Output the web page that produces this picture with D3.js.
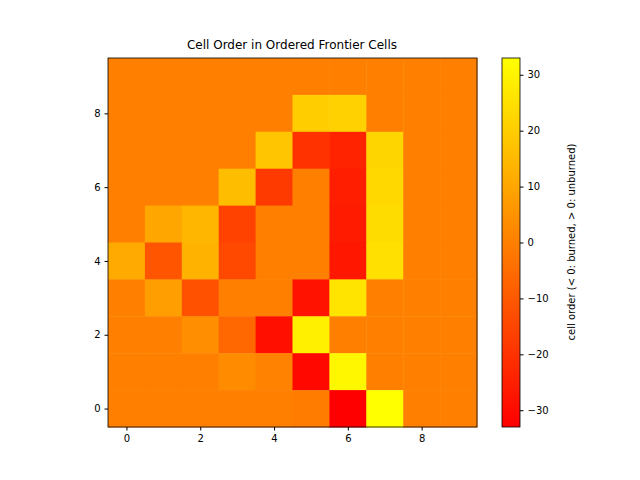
<!DOCTYPE html>
<meta charset="utf-8">
<style>
  body { margin: 0; background: white; }
  text { font-family: "DejaVu Sans", sans-serif; }
</style>
<body>
<script src="https://d3js.org/d3.v7.min.js"></script>
<script>
// rows listed from y = 9 (top) down to y = 0
var grid = [
  [0, 0, 0, 0, 0, 0, 0, 0, 0, 0],
  [0, 0, 0, 0, 0, 20, 21, 0, 0, 0],
  [0, 0, 0, 0, 18, -20, -24, 22, 0, 0],
  [0, 0, 0, 16, -18, 0, -25, 23, 0, 0],
  [0, 10, 14, -16, 0, 0, -26, 24, 0, 0],
  [11, -11, 13, -14, 0, 0, -27, 25, 0, 0],
  [0, 8, -12, 0, 0, -28, 26, 0, 0, 0],
  [0, 0, 4, -6, -29, 29, 0, 0, 0, 0],
  [0, 0, 0, 3, 1, -31, 31, 0, 0, 0],
  [0, 0, 0, 0, 0, -1, -33, 33, 0, 0]
];
var ticksXY = [0, 2, 4, 6, 8];
var cbTicks = [-30, -20, -10, 0, 10, 20, 30];
var vmin = -33, vmax = 33;

var W = 640, H = 480;
var svg = d3.select("body").append("svg").attr("width", W).attr("height", H);

var x = d3.scaleLinear().domain([-0.5, 9.5]).range([108, 477]);
var y = d3.scaleLinear().domain([-0.5, 9.5]).range([427, 58]);
var autumn = function(v) {
  var t = Math.max(0, Math.min(1, (v - vmin) / (vmax - vmin)));
  return d3.rgb(255, Math.round(255 * t), 0);
};

var cells = [];
grid.forEach(function(row, r) {
  row.forEach(function(v, c) { cells.push({x: c, y: 9 - r, v: v}); });
});
svg.append("g").selectAll("rect").data(cells).enter().append("rect")
  .attr("x", function(d) { return x(d.x - 0.5); })
  .attr("y", function(d) { return y(d.y + 0.5); })
  .attr("width", x(1) - x(0) + 0.5)
  .attr("height", y(0) - y(1) + 0.5)
  .attr("fill", function(d) { return autumn(d.v); });

svg.append("rect").attr("x", 108).attr("y", 58).attr("width", 369).attr("height", 369)
  .attr("fill", "none").attr("stroke", "black").attr("stroke-width", 0.8);

var xa = svg.append("g").attr("transform", "translate(0,427)")
  .call(d3.axisBottom(x).tickValues(ticksXY).tickSize(3.5).tickPadding(4));
var ya = svg.append("g").attr("transform", "translate(108,0)")
  .call(d3.axisLeft(y).tickValues(ticksXY).tickSize(3.5).tickPadding(4));
[xa, ya].forEach(function(a) {
  a.select(".domain").remove();
  a.selectAll("text").style("font-size", "10px").attr("fill", "black");
});

svg.append("text").attr("x", 292).attr("y", 49).attr("text-anchor", "middle")
  .style("font-size", "12px").text("Cell Order in Ordered Frontier Cells");

// colorbar
var cb = d3.scaleLinear().domain([vmin, vmax]).range([427, 58]);
var defs = svg.append("defs");
var grad = defs.append("linearGradient").attr("id", "cbg")
  .attr("x1", 0).attr("y1", 1).attr("x2", 0).attr("y2", 0);
grad.append("stop").attr("offset", 0).attr("stop-color", autumn(vmin));
grad.append("stop").attr("offset", 1).attr("stop-color", autumn(vmax));
svg.append("rect").attr("x", 502).attr("y", 58).attr("width", 18).attr("height", 369)
  .attr("fill", "url(#cbg)").attr("stroke", "black").attr("stroke-width", 0.8);
var ca = svg.append("g").attr("transform", "translate(520,0)")
  .call(d3.axisRight(cb).tickValues(cbTicks).tickSize(3.5).tickPadding(4)
    .tickFormat(function(d) { return d < 0 ? "\u2212" + (-d) : d; }));
ca.select(".domain").remove();
ca.selectAll("text").style("font-size", "10px").attr("fill", "black");

svg.append("text").attr("transform", "translate(575,242) rotate(-90)")
  .attr("text-anchor", "middle").style("font-size", "10px")
  .text("cell order (< 0: burned, > 0: unburned)");
</script>
</body>
